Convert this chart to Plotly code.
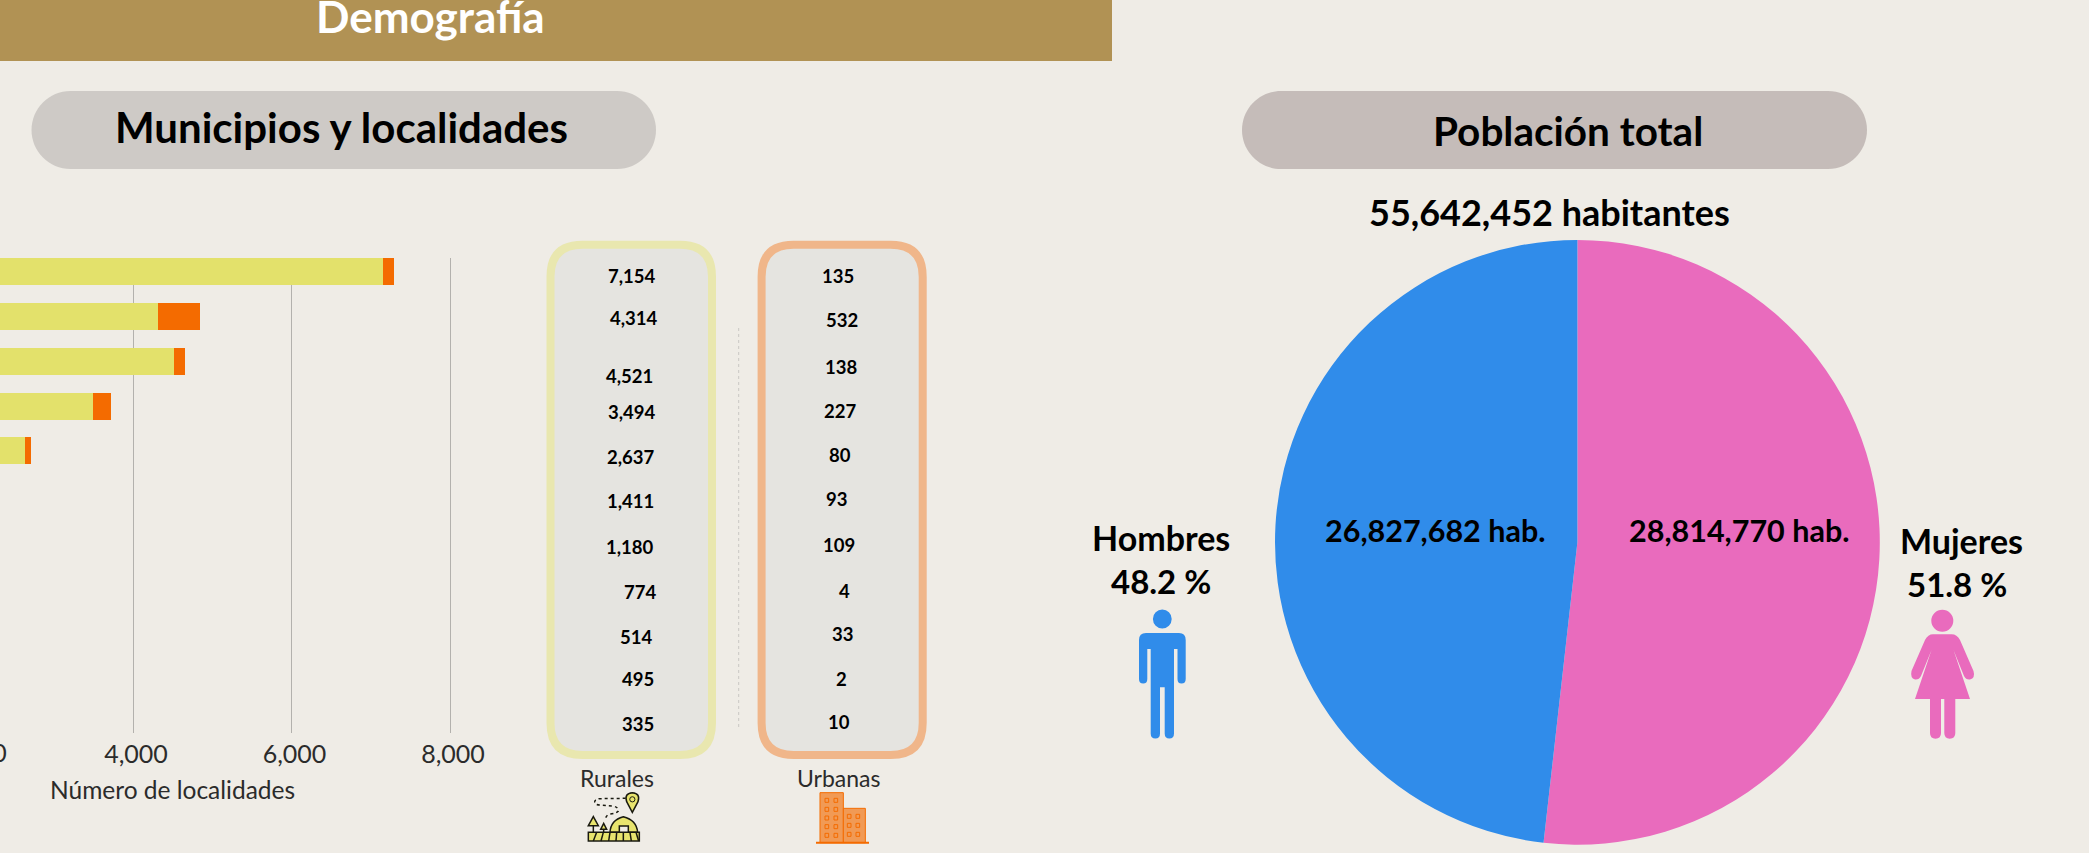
import re
import plotly.graph_objects as go

W, H = 2089, 853

# ---------- data ----------
rows = list(range(1, 12))
rurales = [7154, 4314, 4521, 3494, 2637, 1411, 1180, 774, 514, 495, 335]
urbanas = [135, 532, 138, 227, 80, 93, 109, 4, 33, 2, 10]
x_ticks = [4000, 6000, 8000]
sexo = ["Mujeres", "Hombres"]
poblacion = [28814770, 26827682]
porcentaje = [51.8, 48.2]
total = 55642452

# ---------- layout of the labels (pixels) ----------
rural_pos = [(632, 275.7), (633.5, 318), (629, 375.7), (632, 411.7), (631, 457.2), (630, 500.7),
             (630, 546.7), (639.7, 591.7), (636, 637.3), (638, 679.3), (638, 724.3)]
urban_pos = [(838.3, 275.7), (841.8, 320.3), (841, 366.7), (839.7, 411.3), (839.7, 455.3), (836.7, 499.3),
             (839.3, 545.3), (844.4, 591), (842.5, 634.3), (841, 679.3), (839.3, 722.3)]

BG = "#EFECE6"
FONT = "Lato"
YEL, ORG, BLUE, PINK = "#E3E16B", "#F46B00", "#308CEA", "#E96BBD"


def fx(x):
    return x / W


def fy(y):
    return 1 - y / H


def path(d, ox=0.0, oy=0.0, s=1.0):
    """Pixel path -> paper path (commands M L Q C Z, x y pairs)."""
    out, i = [], 0
    for tok in re.findall(r"[MLQCZ]|-?\d+\.?\d*", d):
        if tok.isalpha():
            out.append(tok)
        else:
            v = float(tok)
            if i % 2 == 0:
                out.append(f"{fx(ox + v * s):.6f}")
            else:
                out.append(f"{fy(oy + v * s):.6f}")
            i += 1
    return " ".join(out)


def rrect(x0, y0, x1, y1, r):
    return (f"M {x0+r} {y0} L {x1-r} {y0} Q {x1} {y0} {x1} {y0+r} L {x1} {y1-r} Q {x1} {y1} {x1-r} {y1} "
            f"L {x0+r} {y1} Q {x0} {y1} {x0} {y1-r} L {x0} {y0+r} Q {x0} {y0} {x0+r} {y0} Z")


def pill(x0, y0, x1, y1, r):
    k = 0.5523 * r
    return (f"M {x0+r} {y0} L {x1-r} {y0} C {x1-r+k} {y0} {x1} {y0+r-k} {x1} {y0+r} "
            f"C {x1} {y1-r+k} {x1-r+k} {y1} {x1-r} {y1} L {x0+r} {y1} "
            f"C {x0+r-k} {y1} {x0} {y1-r+k} {x0} {y0+r} C {x0} {y0+r-k} {x0+r-k} {y0} {x0+r} {y0} Z")


shapes = []


def add(d, fill=None, color=None, width=0, dash=None, **kw):
    line = dict(color=color or "rgba(0,0,0,0)", width=width)
    if dash:
        line["dash"] = dash
    shapes.append(dict(type="path", xref="paper", yref="paper", path=path(d, **kw),
                       fillcolor=fill or "rgba(0,0,0,0)", line=line, layer="below"))


def circle(cx, cy, r, fill=None, color=None, width=0):
    shapes.append(dict(type="circle", xref="paper", yref="paper", x0=fx(cx - r), x1=fx(cx + r),
                       y0=fy(cy + r), y1=fy(cy - r), fillcolor=fill or "rgba(0,0,0,0)",
                       line=dict(color=color or "rgba(0,0,0,0)", width=width), layer="below"))


# header and pills
add(f"M 0 0 L 1112 0 L 1112 61 L 0 61 Z", fill="#B19254")
add(pill(31.5, 91, 656, 169, 39), fill="#CECAC6")
add(pill(1242, 91, 1867, 169, 39), fill="#C5BCB9")

# value columns
add(rrect(550.5, 244.7, 712, 755, 32), fill="#E5E4E0", color="#E9E7AF", width=8)
add(rrect(761.6, 244.7, 922.7, 755, 32), fill="#E5E4E0", color="#F0B68A", width=8)
add("M 738.7 328 L 738.7 727", color="#C9C7C3", width=1, dash="dot")

# man
circle(1162.3, 619, 9.4, fill=BLUE)
add("M 1146 633 L 1179 633 Q 1185.7 633 1185.7 640 L 1185.7 679 Q 1185.7 683.5 1181.5 683.5 "
    "Q 1177.5 683.5 1177.5 679 L 1177.5 649 L 1174 649 L 1174 733.5 Q 1174 738.5 1169.4 738.5 "
    "Q 1164.7 738.5 1164.7 733.5 L 1164.7 687.3 L 1160 687.3 L 1160 733.5 Q 1160 738.5 1155.4 738.5 "
    "Q 1150.7 738.5 1150.7 733.5 L 1150.7 649 L 1147.3 649 L 1147.3 679 Q 1147.3 683.5 1143.2 683.5 "
    "Q 1139 683.5 1139 679 L 1139 640 Q 1139 633 1146 633 Z", fill=BLUE)
# woman
circle(1942.3, 620.7, 11, fill=PINK)
add("M 1933 634.3 L 1951.5 634.3 Q 1957 634.3 1960 640 L 1973.5 671 Q 1975.5 678 1970 679.5 "
    "Q 1966 680 1964 676 L 1953.5 650 L 1970 699 L 1955.3 699 L 1955.3 733 Q 1955.3 738.7 1949.8 738.7 "
    "Q 1944.3 738.7 1944.3 733 L 1944.3 699 L 1941 699 L 1941 733 Q 1941 738.7 1935.5 738.7 "
    "Q 1930 738.7 1930 733 L 1930 699 L 1915 699 L 1931.5 650 L 1921 676 Q 1919 680 1915 679.5 "
    "Q 1910 678 1911.5 671 L 1925 640 Q 1928 634.3 1933 634.3 Z", fill=PINK)

# urban icon (drawn in the 3x crop units of the icon box)
U = dict(ox=560, oy=760, s=1 / 3)
add("M 780 98 L 850 98 L 850 248 L 780 248 Z", fill="#F19A55", color=ORG, width=1, **U)
add("M 850 145 L 916 145 L 916 248 L 850 248 Z", fill="#F19A55", color=ORG, width=1, **U)
add("M 768 248 L 927 248", color=ORG, width=2, **U)
for wx, wy in [(a, b) for a in (795, 822) for b in (115, 142, 168, 194, 220)] + \
              [(a, b) for a in (862, 888) for b in (163, 190, 217)]:
    add(f"M {wx} {wy} L {wx+11} {wy} L {wx+11} {wy+12} L {wx} {wy+12} Z", color=ORG, width=1, **U)

# rural icon
K = "#1A1A10"
add("M 197 115 L 118 116 Q 103 118 104 127 Q 106 135 120 135 L 160 138 Q 177 143 175 153 Q 170 160 148 162 Q 136 168 135 182",
    color=K, width=1.5, dash="dot", **U)
add("M 217 157 L 200 125 Q 192 100 217 98 Q 242 100 234 125 Z", fill="#E8E46E", color=K, width=1.5, **U)
circle(560 + 217 / 3, 760 + 118 / 3, 2.6, fill="#E8E46E", color=K, width=1)
add("M 150 217 Q 152 180 190 170 Q 230 180 233 217 Z", fill="#E8E46E", color=K, width=1.5, **U)
add("M 178 217 L 178 198 L 205 198 L 205 217", fill="#EFECE6", color=K, width=1.5, **U)
add("M 85 197 L 100 170 L 115 197 Z", fill="#E8E46E", color=K, width=1.5, **U)
add("M 100 197 L 100 217", color=K, width=1.5, **U)
add("M 122 208 L 131 190 L 140 208 Z", fill="#E8E46E", color=K, width=1.5, **U)
add("M 131 208 L 131 217", color=K, width=1.5, **U)
add("M 85 217 L 238 217 L 238 243 L 85 243 Z", fill="#E8E46E", color=K, width=1.5, **U)
for a, b in [(110, 100), (130, 123), (150, 146), (170, 168), (190, 190), (210, 214), (228, 236)]:
    add(f"M {a} 217 L {b} 243", color=K, width=1.5, **U)


# ---------- text ----------
ann = []


def text(x, y, s, size, bold=False, color="#000000"):
    t = f"<b>{s}</b>" if bold else s
    ann.append(dict(x=fx(x), y=fy(y), xref="paper", yref="paper", text=t, showarrow=False,
                    xanchor="center", yanchor="middle", align="center",
                    font=dict(family=FONT, size=size, color=color)))


text(430, 16.5, "Demografía", 44, True, "#FFFFFF")
text(341.6, 126.5, "Municipios y localidades", 42, True)
text(1568, 130.5, "Población total", 40.5, True)
text(1549.5, 212, f"{total:,} habitantes", 36, True)

for v, (px, py) in zip(rurales, rural_pos):
    text(px, py, f"{v:,}", 18.5, True)
for v, (px, py) in zip(urbanas, urban_pos):
    text(px, py, f"{v:,}", 18.5, True)

text(617, 778, "Rurales", 23, color="#2B2B2B")
text(839, 778, "Urbanas", 23, color="#2B2B2B")
text(172, 789, "Número de localidades", 24.5, color="#2B2B2B")
text(-25, 752, "2,000", 25, color="#2B2B2B")

text(1739, 530, f"{poblacion[0]:,} hab.", 30.5, True)
text(1435, 530, f"{poblacion[1]:,} hab.", 30.5, True)
text(1161, 537, sexo[1], 34, True)
text(1160.7, 581, f"{porcentaje[1]} %", 33, True)
text(1961.7, 540.5, sexo[0], 34, True)
text(1957, 584, f"{porcentaje[0]} %", 33, True)

# ---------- figure ----------
fig = go.Figure()
fig.add_bar(y=rows, x=rurales, orientation="h", name="Rurales", marker=dict(color=YEL, line_width=0))
fig.add_bar(y=rows, x=urbanas, orientation="h", name="Urbanas", marker=dict(color=ORG, line_width=0))

# the pie is placed by its domain (centre 1577.4,542.3; radius 302.4 px)
fig.add_pie(labels=sexo, values=poblacion, sort=False, direction="clockwise", rotation=0,
            marker=dict(colors=[PINK, BLUE], line_width=0), textinfo="none", hoverinfo="label+value",
            domain=dict(x=[fx(1275), fx(1879.8)], y=[fy(844.7), fy(239.9)]))

PX_PER_UNIT = 158.5 / 2000
X0_VAL = 4000 - 133 / PX_PER_UNIT   # value at the left edge of the page
PLOT_R = 500
fig.update_layout(
    width=W, height=H, autosize=False, margin=dict(l=0, r=0, t=0, b=0), showlegend=False,
    paper_bgcolor=BG, plot_bgcolor=BG, barmode="stack", bargap=0.40,
    font=dict(family=FONT, color="#2B2B2B"),
    shapes=shapes, annotations=ann,
    xaxis=dict(domain=[0, PLOT_R / W], range=[X0_VAL, X0_VAL + PLOT_R / PX_PER_UNIT],
               tickvals=x_ticks, tickformat=",d", showgrid=True, gridcolor="#B3B1AD", gridwidth=1,
               zeroline=False, showline=False, ticks="", ticklen=0, tickfont=dict(size=25, color="#2B2B2B"),
               ticklabelstandoff=4, ticklabelshift=3),
    yaxis=dict(domain=[fy(733), fy(258)], range=[11.28, 0.704], showticklabels=False, showgrid=False,
               zeroline=False, showline=False, ticks=""),
)
fig.write_html("out.html", config={"displayModeBar": False},
               post_script="document.body.style.margin='0';document.body.style.overflow='hidden';")
